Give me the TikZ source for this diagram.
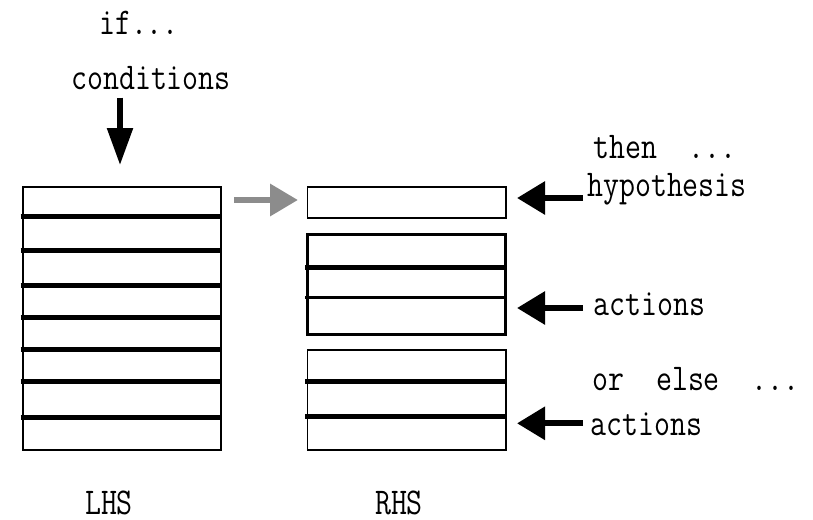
\documentclass[tikz,border=0pt]{standalone}
\usepackage{fontspec}
\usepackage{graphicx}
\usetikzlibrary{arrows.meta}
\newcommand\talltext[1]{\scalebox{1}[1.22]{#1}}
\begin{document}
\begin{tikzpicture}[x=1pt,y=-1pt,
  lbl/.style={inner sep=0pt, anchor=base, font=\ttfamily\fontsize{31}{36}\selectfont},
  box/.style={draw, line width=1.5pt, inner sep=0pt, anchor=north west},
  thickbox/.style={box, line width=3pt},
  divider/.style={line width=5pt},
  thindivider/.style={line width=3.5pt},
  downarrow/.style={line width=5.5pt, -{Triangle[length=37pt,width=25pt]}},
  leftarrow/.style={line width=6pt, -{Triangle[length=28pt,width=32pt]}},
  grayarrow/.style={line width=6.5pt, draw=gray!90, -{Triangle[length=28pt,width=31pt]}}
]
\useasboundingbox (0,0) rectangle (813,519);

% texts
\node[lbl] (if) at (139,35) {\talltext{\addfontfeature{LetterSpace=11}if...}};
\node[lbl] (cond) at (151,89.3) {\talltext{conditions}};
\node[lbl] (then) at (665,158.3) {\talltext{then\ \ ...}};
\node[lbl] (hyptxt) at (667,196.7) {\talltext{hypothesis}};
\node[lbl] (act1) at (649.5,315) {\talltext{actions}};
\node[lbl] (orelse) at (696,390) {\talltext{or\ \ else\ \ ...}};
\node[lbl] (act2) at (646.5,435) {\talltext{actions}};
\node[lbl] (lhstxt) at (109,514.5) {\talltext{LHS}};
\node[lbl] (rhstxt) at (399,514.5) {\talltext{RHS}};

% LHS box
\node[box, minimum width=198pt, minimum height=263pt] (lhs) at (22,186) {};
\foreach \yy in {216.7,250,285,317.7,349,381.7,417}
  \draw[divider] (20.7,\yy) -- (221.7,\yy);

% RHS boxes
\node[box, minimum width=198.3pt, minimum height=31.3pt] (hyp) at (306.7,186) {};
\node[thickbox, minimum width=198.6pt, minimum height=100pt] (act) at (305.7,233.3) {};
\draw[divider] (305,267.7) -- (506,267.7);
\draw[thindivider] (305,297.3) -- (506,297.3);
\node[box, minimum width=198.3pt, minimum height=100.3pt] (els) at (306.7,349) {};
\draw[divider] (305,381.7) -- (506,381.7);
\draw[divider] (305,416.7) -- (506,416.7);

% arrows
\coordinate (ca) at (120,97.7);
\coordinate (cb) at (120,165);
\draw[downarrow] (ca) -- (cb);

\coordinate (ga) at (234,200);
\coordinate (gb) at (298,200);
\draw[grayarrow] (ga) -- (gb);

\coordinate (ha) at (583,198);
\coordinate (hb) at (517,198);
\draw[leftarrow] (ha) -- (hb);

\coordinate (aa) at (583,308);
\coordinate (ab) at (517,308);
\draw[leftarrow] (aa) -- (ab);

\coordinate (ea) at (583,423.3);
\coordinate (eb) at (517,423.3);
\draw[leftarrow] (ea) -- (eb);
\end{tikzpicture}
\end{document}
